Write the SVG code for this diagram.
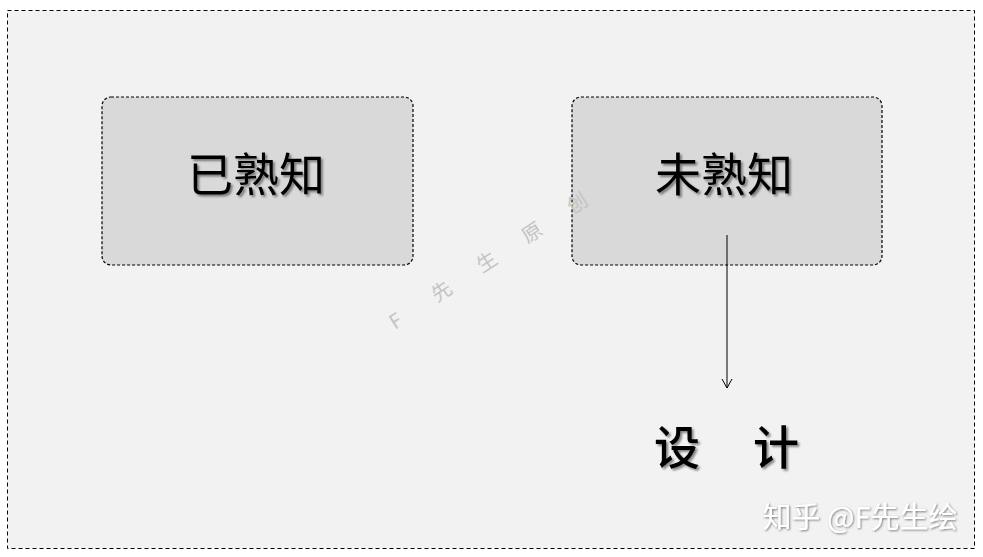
<svg xmlns="http://www.w3.org/2000/svg" width="983" height="557" viewBox="0 0 983 557">
<defs>
<filter id="sh" x="-10%" y="-10%" width="130%" height="140%">
<feDropShadow dx="2" dy="2" stdDeviation="1.2" flood-color="#000" flood-opacity="0.45"/>
</filter>
<filter id="sh2" x="-10%" y="-10%" width="130%" height="140%">
<feDropShadow dx="1" dy="1" stdDeviation="0.8" flood-color="#000" flood-opacity="0.5"/>
</filter>
<marker id="arr" markerWidth="12" markerHeight="12" refX="10" refY="6" orient="auto" markerUnits="userSpaceOnUse">
<path d="M1,1 L10,6 L1,11" fill="none" stroke="#000" stroke-width="1"/>
</marker>
</defs>
<style>
.box{fill:#d9d9d9;stroke:#000;stroke-width:1.2;stroke-dasharray:3,2}
.lbl{font-family:"Noto Sans CJK SC","Noto Sans",sans-serif;font-size:46px;fill:#000;text-anchor:middle;filter:url(#sh)}
.wm{font-family:"Noto Sans CJK SC",sans-serif;font-size:20px;fill:#c4c4c4}
</style>
<rect x="0" y="0" width="983" height="557" fill="#fff"/>
<rect id="frame" x="7.5" y="10.5" width="967" height="538" fill="#f2f2f2" stroke="#000" stroke-width="1" stroke-dasharray="4,3"/>
<g id="known">
<rect class="box" x="102" y="97" width="311" height="168" rx="9"/>
<text class="lbl" x="256" y="191">已熟知</text>
</g>
<g id="unknown">
<rect class="box" x="572" y="97" width="310" height="168" rx="9"/>
<text class="lbl" x="724" y="191">未熟知</text>
</g>
<g id="connectors">
<line x1="727" y1="235" x2="727" y2="388" stroke="#000" stroke-width="1" marker-end="url(#arr)"/>
</g>
<g id="design">
<text class="lbl" x="677" y="464" style="font-weight:500">设</text>
<text class="lbl" x="776" y="464" style="font-weight:500">计</text>
</g>
<g id="watermark" transform="translate(395,330) rotate(-33)">
<text class="wm" x="0" y="0">F</text>
<text class="wm" x="50" y="0">先</text>
<text class="wm" x="104" y="0">生</text>
<text class="wm" x="158" y="0">原</text>
<text class="wm" x="212" y="0">创</text>
</g>
<text x="860" y="528" font-family="Noto Sans CJK SC, sans-serif" font-size="29" fill="#fff" text-anchor="middle" filter="url(#sh2)">知乎 @F先生绘</text>
</svg>
